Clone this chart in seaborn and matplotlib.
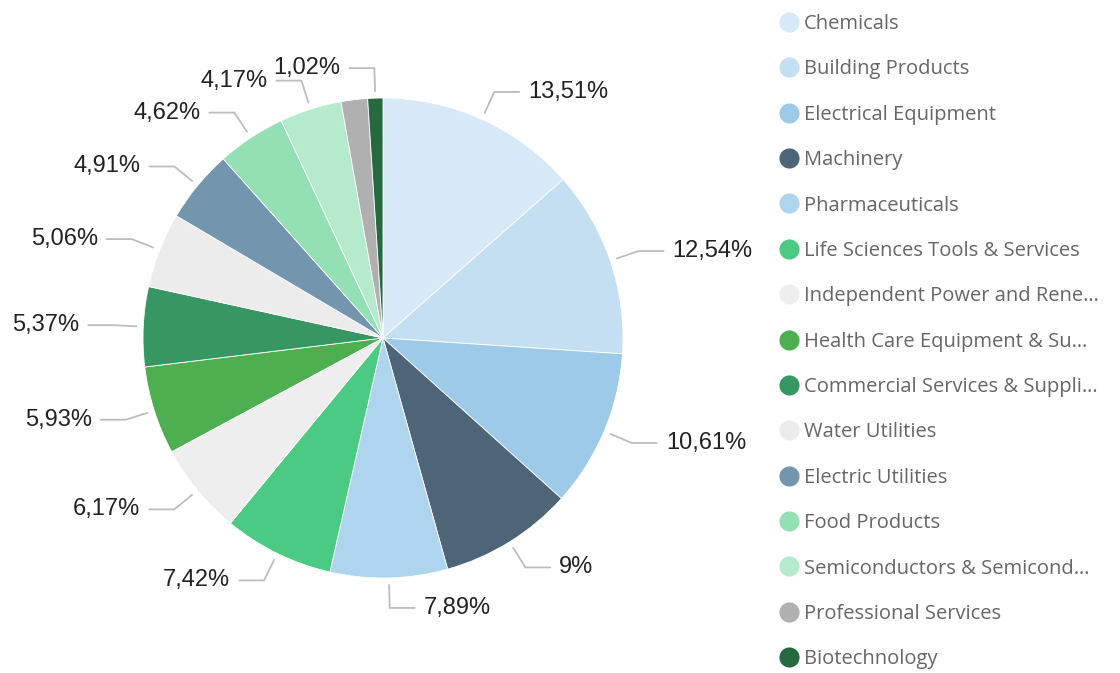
import numpy as np
import seaborn as sns
import matplotlib.pyplot as plt
from matplotlib.lines import Line2D

# Sector shares (percent), clockwise from 12 o'clock
sectors = ['Chemicals', 'Building Products', 'Electrical Equipment', 'Machinery',
           'Pharmaceuticals', 'Life Sciences Tools & Services',
           'Independent Power and Rene…', 'Health Care Equipment & Su…',
           'Commercial Services & Suppli…', 'Water Utilities', 'Electric Utilities',
           'Food Products', 'Semiconductors & Semicond…', 'Professional Services',
           'Biotechnology']
shares = [13.51, 12.54, 10.61, 9.00, 7.89, 7.42, 6.17, 5.93, 5.37, 5.06, 4.91,
          4.62, 4.17, 1.78, 1.02]
colors = ['#d7e8f6', '#c4dff1', '#9dcae9', '#4e6577', '#afd4ed', '#4aca83',
          '#eeeeee', '#4eaf50', '#379763', '#ececec', '#7396ae', '#94e0b5',
          '#b5eacd', '#b0b0b0', '#256a3f']
# label hidden in the original (overlap)
hidden = ['Professional Services']

sns.set_theme(style='white')
plt.rcParams['font.family'] = ['Liberation Sans', 'DejaVu Sans']

W, H = 1120, 673
fig = plt.figure(figsize=(W / 100, H / 100), dpi=100)
ax = fig.add_axes([0, 0, 1, 1])

cx, cy, r = 383, H - 338, 240
wedges, _ = ax.pie(shares, colors=colors, startangle=90, counterclock=False,
                   center=(cx, cy), radius=r,
                   wedgeprops=dict(edgecolor='white', linewidth=0.6))
ax.set_xlim(0, W)
ax.set_ylim(0, H)
ax.set_aspect('auto')
ax.axis('off')


def fmt(v):
    s = f'{v:.2f}'.rstrip('0').rstrip('.')
    return s.replace('.', ',') + '%'


# leader lines + labels
for w, name, v in zip(wedges, sectors, shares):
    if name in hidden:
        continue
    ang = np.deg2rad((w.theta1 + w.theta2) / 2)
    dx, dy = np.cos(ang), np.sin(ang)
    side = 1 if dx >= 0 else -1
    x0, y0 = cx + (r + 7) * dx, cy + (r + 7) * dy
    x1, y1 = cx + (r + 30) * dx, cy + (r + 30) * dy
    x2 = x1 + side * 25
    ax.plot([x0, x1, x2], [y0, y1, y1], color='#bdbdbd', lw=1.3,
            solid_joinstyle='miter')
    ax.text(x2 + side * 9, y1, fmt(v), ha='left' if side > 0 else 'right',
            va='center', fontsize=17, color='#222222')

# legend on the right
handles = [Line2D([], [], marker='o', linestyle='none', markersize=14.5,
                  markerfacecolor=c, markeredgewidth=0) for c in colors]
leg = fig.legend(handles, sectors, loc='upper left',
                 bbox_to_anchor=(775 / W, 1 - 10 / H), frameon=False,
                 prop={'family': 'Open Sans', 'size': 14.5},
                 handlelength=1.0, handletextpad=0.25, labelspacing=1.26,
                 borderpad=0.2, borderaxespad=0)
for t in leg.get_texts():
    t.set_color('#666666')

fig.savefig('out.png', dpi=100)
